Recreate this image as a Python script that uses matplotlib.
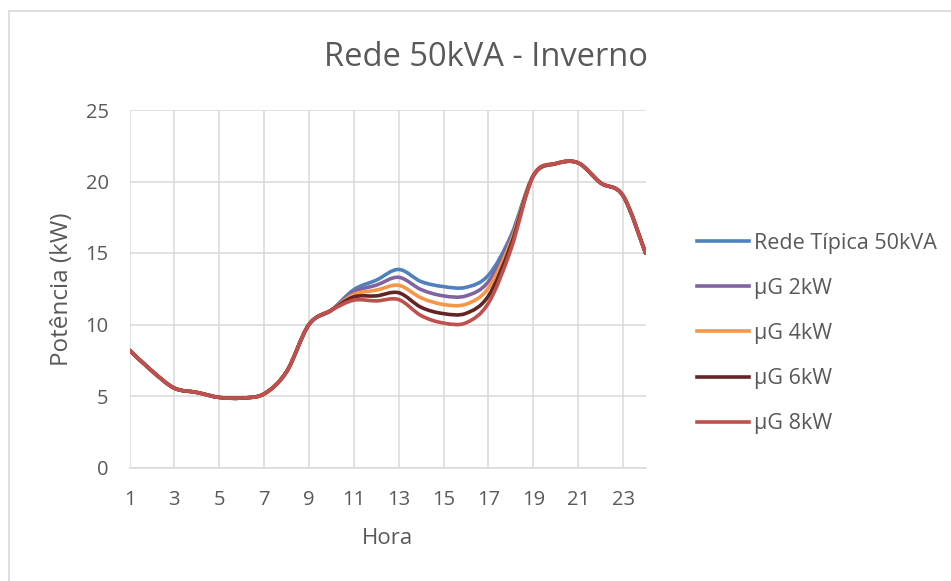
import numpy as np
import matplotlib
matplotlib.use("Agg")
import matplotlib.pyplot as plt
from matplotlib.path import Path
from matplotlib.patches import PathPatch, Rectangle
from matplotlib.lines import Line2D

plt.rcParams['font.family'] = ['Open Sans', 'DejaVu Sans']

title = "Rede 50kVA - Inverno"
xlabel = "Hora"
ylabel = "Potência (kW)"

hours = list(range(1, 25))
series_names = ["Rede Típica 50kVA", "µG 2kW", "µG 4kW", "µG 6kW", "µG 8kW"]
colors = ["#4F81BD", "#8064A2", "#F79646", "#632523", "#C0504D"]

common_start = [8.2, 6.75, 5.55, 5.25, 4.9, 4.86, 5.15, 6.7, 10.0, 11.0]
common_end = [20.4, 21.25, 21.3, 19.9, 19.0, 15.0]

rede_mid = [12.44, 13.1, 13.85, 13.0, 12.65, 12.6, 13.45, 16.2]
ug2_mid = [12.28, 12.75, 13.3, 12.44, 12.0, 12.0, 13.0, 16.0]
ug4_mid = [12.1, 12.4, 12.74, 11.86, 11.4, 11.42, 12.55, 15.8]
ug6_mid = [11.93, 12.0, 12.22, 11.2, 10.76, 10.78, 12.0, 15.55]
ug8_mid = [11.7, 11.65, 11.74, 10.62, 10.1, 10.12, 11.5, 15.25]

series = [common_start + m + common_end for m in (rede_mid, ug2_mid, ug4_mid, ug6_mid, ug8_mid)]

W, H = 951, 581
fig = plt.figure(figsize=(W / 100, H / 100), dpi=100)

# chart area border
fig.patches.append(Rectangle((9 / W, -0.05), 1.1, 1 - 11 / H + 0.05, transform=fig.transFigure,
                             fill=False, edgecolor="#D9D9D9", linewidth=1.2, zorder=0))

ax = fig.add_axes([129.5 / W, 1 - 467.5 / H, (645.5 - 129.5) / W, (467.5 - 110) / H])


def smooth_path(x, y):
    # Excel-style smoothed line: cubic Bezier segments with Catmull-Rom control points
    x = np.asarray(x, float)
    y = np.asarray(y, float)
    n = len(x)
    verts = [(x[0], y[0])]
    codes = [Path.MOVETO]
    for i in range(n - 1):
        p0 = np.array([x[max(i - 1, 0)], y[max(i - 1, 0)]])
        p1 = np.array([x[i], y[i]])
        p2 = np.array([x[i + 1], y[i + 1]])
        p3 = np.array([x[min(i + 2, n - 1)], y[min(i + 2, n - 1)]])
        c1 = p1 + (p2 - p0) / 6.0
        c2 = p2 - (p3 - p1) / 6.0
        verts += [tuple(c1), tuple(c2), tuple(p2)]
        codes += [Path.CURVE4] * 3
    return Path(verts, codes)


for vals, col in zip(series, colors):
    patch = PathPatch(smooth_path(hours, vals), facecolor="none", edgecolor=col,
                      linewidth=2.6, capstyle="round", joinstyle="round", zorder=3)
    ax.add_patch(patch)

ax.set_xlim(1, 24)
ax.set_ylim(0, 25)
ax.set_xticks(list(range(1, 24, 2)))
ax.set_yticks([0, 5, 10, 15, 20, 25])
ax.grid(True, color="#D9D9D9", linewidth=1.1, zorder=0)
ax.set_axisbelow(True)
for s in ["top", "right", "left"]:
    ax.spines[s].set_visible(False)
ax.spines["bottom"].set_color("#D9D9D9")
ax.spines["bottom"].set_linewidth(1.1)
ax.tick_params(axis="both", length=0, labelsize=14.5, labelcolor="#595959")
ax.tick_params(axis="y", pad=15)
ax.tick_params(axis="x", pad=16)

fig.text(486 / W, 1 - 57 / H, title, ha="center", va="center", fontsize=23.5, color="#595959")
fig.text(62 / W, 1 - 289 / H, ylabel, ha="center", va="center", rotation=90,
         fontsize=17.5, color="#595959")
fig.text(387 / W, 1 - 539 / H, xlabel, ha="center", va="center", fontsize=16, color="#595959")

handles = [Line2D([0], [0], color=c, linewidth=2.6) for c in colors]
leg = fig.legend(handles, series_names, loc="center left",
                 bbox_to_anchor=(697 / W, 1 - 333.5 / H), frameon=False,
                 fontsize=15.5, handlelength=2.4, handletextpad=0.25,
                 labelspacing=1.12, borderpad=0, borderaxespad=0)
for t in leg.get_texts():
    t.set_color("#595959")

fig.savefig("out.png", dpi=100)
